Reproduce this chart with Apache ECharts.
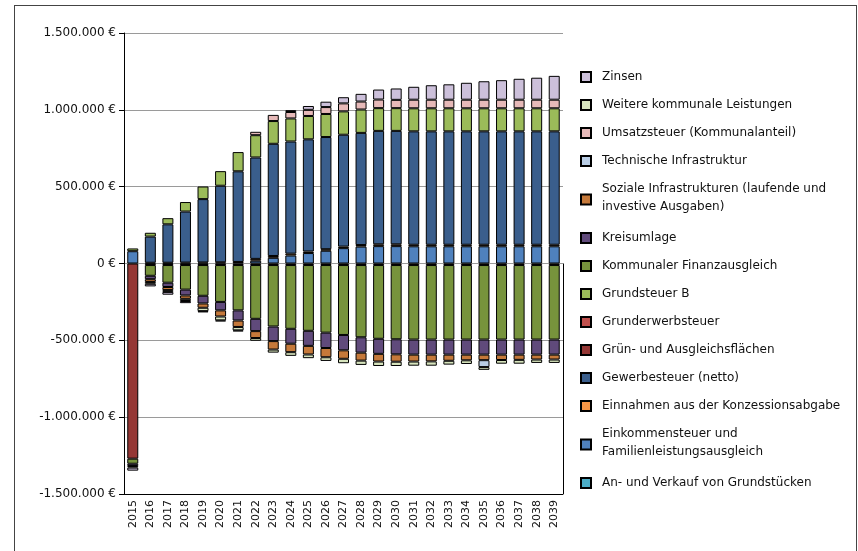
<!DOCTYPE html>
<html>
<head>
<meta charset="utf-8">
<script src="https://cdn.jsdelivr.net/npm/echarts@6/dist/echarts.min.js"></script>
<style>
html, body { margin: 0; padding: 0; background: #fff; }
#frame { position: absolute; left: 14px; top: 5px; width: 841px; height: 560px; border: 1px solid #444; }
#main { position: absolute; left: 0; top: 0; width: 858px; height: 551px; }
</style>
</head>
<body>
<div id="frame"></div>
<div id="main"></div>
<script>
// values in thousand euro, 2015..2039
var years = ['2015', '2016', '2017', '2018', '2019', '2020', '2021', '2022', '2023', '2024', '2025', '2026', '2027',
    '2028', '2029', '2030', '2031', '2032', '2033', '2034', '2035', '2036', '2037', '2038', '2039'];

var grundstuecke = [0, 0, 0, 0, 0, 0, 0, 0, 0, 0, 0, 0, 0, 0, 0, 0, 0, 0, 0, 0, 0, 0, 0, 0, 0];
var einkommen = [80, 0, 0, 0, 0, 0, 0, 18, 37, 52, 68, 83, 100, 110, 113, 113, 112, 112, 112, 112, 112, 112, 112, 112, 112];
var konzession = [0, 5, 5, 6, 7, 8, 10, 12, 12, 12, 10, 10, 10, 10, 12, 12, 10, 10, 10, 10, 10, 10, 10, 10, 10];
var gewerbe = [0, 170, 250, 332, 412, 498, 590, 660, 730, 730, 730, 730, 728, 730, 738, 738, 738, 738, 738, 738, 738, 738, 738, 738, 738];
var gruenflaechen = [-1270, -10, -10, -10, -10, -10, -10, -10, -10, -10, -10, -10, -10, -10, -10, -10, -10, -10, -10, -10, -10, -10, -10, -10, -10];
var grunderwerb = [0, 0, 0, 0, 0, 0, 0, 0, 0, 0, 0, 0, 0, 0, 0, 0, 0, 0, 0, 0, 0, 0, 0, 0, 0];
var grundsteuerB = [18, 25, 40, 62, 82, 95, 125, 145, 148, 150, 152, 150, 152, 152, 148, 148, 150, 150, 150, 150, 150, 150, 150, 150, 150];
var finanzausgleich = [-33, -70, -115, -160, -200, -240, -295, -350, -400, -415, -428, -440, -455, -470, -480, -483, -485, -485, -485, -485, -485, -485, -485, -485, -485];
var kreisumlage = [-15, -22, -28, -38, -50, -55, -66, -80, -95, -97, -98, -100, -100, -100, -98, -98, -98, -98, -98, -98, -98, -98, -98, -98, -98];
var sozial = [-10, -18, -20, -22, -28, -40, -42, -45, -55, -55, -56, -60, -55, -52, -50, -48, -45, -44, -40, -37, -36, -35, -34, -32, -32];
var technisch = [0, 0, 0, 0, 0, 0, 0, 0, 0, 0, 0, 0, 0, 0, 0, 0, 0, 0, 0, 0, -45, 0, 0, 0, 0];
var umsatz = [0, 0, 0, 0, 0, 0, 0, 22, 40, 42, 40, 45, 52, 52, 56, 54, 56, 56, 56, 56, 56, 56, 56, 56, 56];
var weitere = [0, -12, -12, -14, -22, -25, -22, -18, -20, -24, -24, -24, -29, -28, -29, -28, -27, -28, -25, -24, -18, -24, -25, -22, -22];
var zinsen = [-20, -17, -18, -14, -8, -7, -7, 0, 0, 12, 25, 35, 40, 50, 65, 74, 84, 94, 100, 110, 120, 127, 136, 143, 155];

// stacking order: first entry sits next to the zero line
var seriesDefs = [
    ['An- und Verkauf von Grundstücken', grundstuecke, '#4bacc6'],
    ['Einkommensteuer und Familienleistungsausgleich', einkommen, '#4f81bd'],
    ['Einnahmen aus der Konzessionsabgabe', konzession, '#f79646'],
    ['Gewerbesteuer (netto)', gewerbe, '#3a5e8c'],
    ['Grün- und Ausgleichsflächen', gruenflaechen, '#953735'],
    ['Grunderwerbsteuer', grunderwerb, '#c0504d'],
    ['Grundsteuer B', grundsteuerB, '#9bbb59'],
    ['Kommunaler Finanzausgleich', finanzausgleich, '#77933c'],
    ['Kreisumlage', kreisumlage, '#604a7b'],
    ['Soziale Infrastrukturen (laufende und investive Ausgaben)', sozial, '#c5793a'],
    ['Technische Infrastruktur', technisch, '#b9cde5'],
    ['Umsatzsteuer (Kommunalanteil)', umsatz, '#e6b9b8'],
    ['Weitere kommunale Leistungen', weitere, '#d7e4bd'],
    ['Zinsen', zinsen, '#ccc0da']
];

var wrapped = {
    'Soziale Infrastrukturen (laufende und investive Ausgaben)': 'Soziale Infrastrukturen (laufende und\ninvestive Ausgaben)',
    'Einkommensteuer und Familienleistungsausgleich': 'Einkommensteuer und\nFamilienleistungsausgleich'
};

function euro(v) {
    var s = String(Math.abs(v)).replace(/\B(?=(\d{3})+(?!\d))/g, '.');
    return (v < 0 ? '-' : '') + s + ' €';
}

var series = seriesDefs.map(function (d) {
    return {
        name: d[0],
        type: 'bar',
        stack: 'total',
        barWidth: 11,
        itemStyle: { color: d[2], borderColor: '#000', borderWidth: 1 },
        data: d[1].map(function (v) { return v === 0 ? '-' : v * 1000; })
    };
});

var font = 'DejaVu Sans';

var option = {
    animation: false,
    backgroundColor: 'transparent',
    textStyle: { fontFamily: font },
    legend: {
        orient: 'vertical',
        left: 575,
        top: 63,
        itemWidth: 10,
        itemHeight: 10,
        itemGap: 10,
        icon: 'rect',
        selectedMode: false,
        data: seriesDefs.map(function (d) { return d[0]; }).reverse(),
        formatter: function (name) { return wrapped[name] ? wrapped[name] + '\n{s| }' : name; },
        textStyle: {
            fontFamily: font, fontSize: 12, color: '#111', lineHeight: 18, padding: [0, 0, 0, 6],
            rich: { s: { fontSize: 2, lineHeight: 3 } }
        }
    },
    grid: { left: 124, right: 295, top: 33, bottom: 57 },
    xAxis: {
        type: 'category',
        data: years,
        axisLine: { onZero: false, lineStyle: { color: '#000' } },
        axisTick: { length: 5, lineStyle: { color: '#000' } },
        axisLabel: { rotate: 90, fontFamily: font, fontSize: 11, color: '#111', margin: 6 }
    },
    yAxis: {
        type: 'value',
        min: -1500000,
        max: 1500000,
        interval: 500000,
        axisLine: { show: true, lineStyle: { color: '#000' } },
        axisTick: { show: true, length: 5, lineStyle: { color: '#000' } },
        splitLine: { lineStyle: { color: '#9a9a9a' } },
        axisLabel: { fontFamily: font, fontSize: 12, color: '#111', margin: 8, formatter: euro }
    },
    series: series
};

var myChart = echarts.init(document.getElementById('main'));
myChart.setOption(option);

// the plot has a right-hand border below the zero line only
var zeroY = myChart.convertToPixel({ yAxisIndex: 0 }, 0);
var bottomY = myChart.convertToPixel({ yAxisIndex: 0 }, -1500000);
myChart.setOption({
    graphic: [{
        type: 'line',
        shape: { x1: 858 - 295 + 0.5, y1: zeroY, x2: 858 - 295 + 0.5, y2: bottomY },
        style: { stroke: '#000', lineWidth: 1 }
    }]
});
</script>
</body>
</html>
